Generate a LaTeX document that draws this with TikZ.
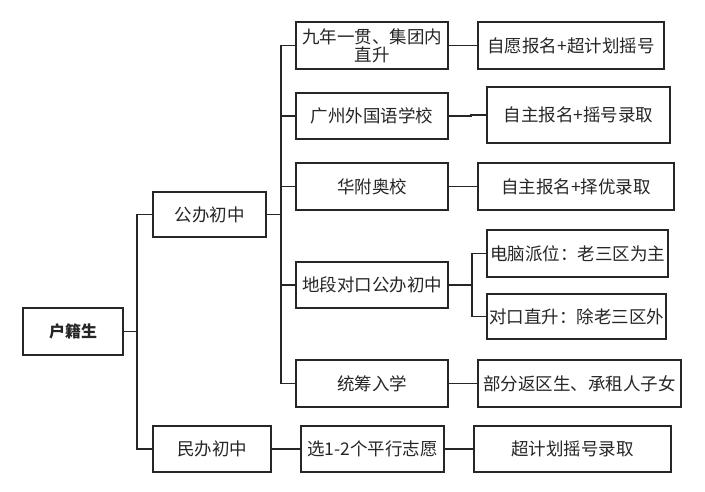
\documentclass[tikz,border=0pt]{standalone}
\usepackage{fontspec}
\setmainfont{Noto Sans CJK SC}
\begin{document}
\begin{tikzpicture}[x=1pt,y=-1pt,
  box/.style={draw=black!85,line width=1.3pt,fill=white,inner sep=1pt,align=center,font=\fontsize{17.5}{19}\selectfont,text=black!85},
  conn/.style={draw=black!85,line width=1.3pt}]
\useasboundingbox (0,0) rectangle (705,492);
% level 0/1
\node[box,minimum width=100pt,minimum height=47pt,font=\fontsize{16}{18}\selectfont\bfseries] (root) at (73,331.5) {户籍生};
\node[box,minimum width=113pt,minimum height=45pt] (gb) at (209.5,214.5) {公办初中};
\node[box,minimum width=118pt,minimum height=46pt] (mb) at (212,449) {民办初中};
% level 2
\node[box,minimum width=152pt,minimum height=47pt,font=\fontsize{17.5}{18}\selectfont] (a1) at (372,45.5) {九年一贯、集团内\\直升};
\node[box,minimum width=152pt,minimum height=46pt] (a2) at (372,116) {广州外国语学校};
\node[box,minimum width=152pt,minimum height=47pt] (a3) at (372,186.5) {华附奥校};
\node[box,minimum width=152pt,minimum height=46pt] (a4) at (372,285) {地段对口公办初中};
\node[box,minimum width=152pt,minimum height=47pt] (a5) at (372,383.5) {统筹入学};
\node[box,minimum width=143pt,minimum height=46pt] (m1) at (372.5,449) {选1-2个平行志愿};
% level 3
\node[box,minimum width=186pt,minimum height=47pt] (b1) at (571,45.5) {自愿报名+超计划摇号};
\node[box,minimum width=183pt,minimum height=56pt] (b2) at (578.5,115) {自主报名+摇号录取};
\node[box,minimum width=196pt,minimum height=47pt] (b3) at (576,186.5) {自主报名+择优录取};
\node[box,minimum width=181pt,minimum height=47pt] (b4a) at (577.5,253.5) {电脑派位：老三区为主};
\node[box,minimum width=179pt,minimum height=45pt] (b4b) at (576.5,316.5) {对口直升：除老三区外};
\node[box,minimum width=203pt,minimum height=47pt] (b5) at (579.5,383.5) {部分返区生、承租人子女};
\node[box,minimum width=197pt,minimum height=46pt] (m2) at (572.5,449) {超计划摇号录取};
% junctions
\coordinate (j0) at (137,331.5);
\coordinate (j1) at (281,214.5);
\coordinate (k2) at (471,116);
\coordinate (j4) at (472,285);
% connectors
\draw[conn] (root.east) -- (j0);
\draw[conn] (j0) |- (gb.west);
\draw[conn] (j0) |- (mb.west);
\draw[conn] (gb.east) -- (j1);
\draw[conn] (j1) |- (a1.west);
\draw[conn] (j1) |- (a2.west);
\draw[conn] (j1) |- (a3.west);
\draw[conn] (j1) |- (a4.west);
\draw[conn] (j1) |- (a5.west);
\draw[conn] (a1.east) -- (b1.west);
\draw[conn] (a2.east) -- (k2) |- (b2.west);
\draw[conn] (a3.east) -- (b3.west);
\draw[conn] (a4.east) -- (j4);
\draw[conn] (j4) |- (b4a.west);
\draw[conn] (j4) |- (b4b.west);
\draw[conn] (a5.east) -- (b5.west);
\draw[conn] (mb.east) -- (m1.west);
\draw[conn] (m1.east) -- (m2.west);
\end{tikzpicture}
\end{document}
